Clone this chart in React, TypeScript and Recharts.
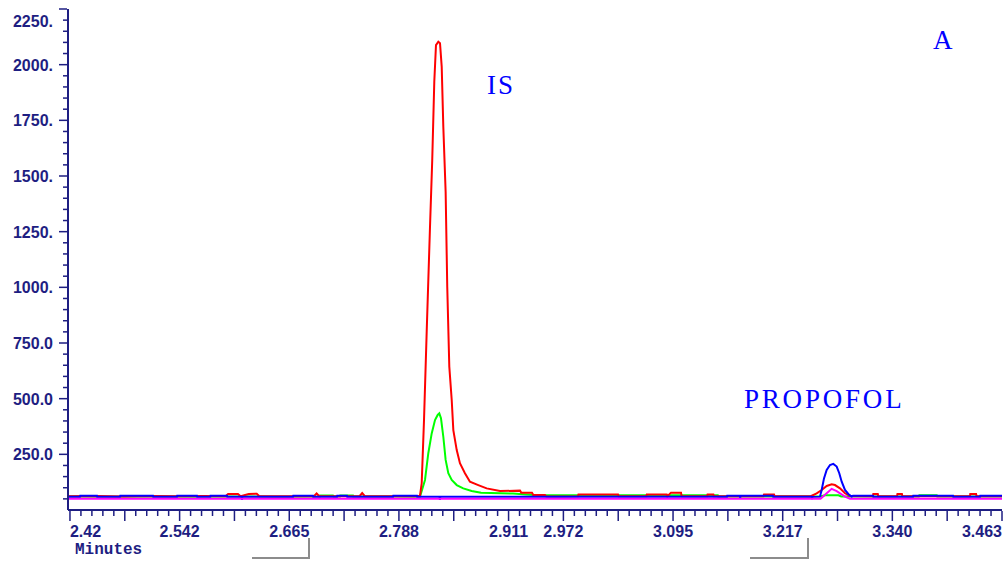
import { LineChart, Line, XAxis, YAxis } from 'recharts';

const NAVY = '#1e1e82';
const TRACE_BLUE = '#0000ff';

// [retention time (min), abundance]
const redTrace: [number, number][] = [
  [2.418, 62], [2.45, 63], [2.48, 61], [2.51, 63], [2.54, 62], [2.57, 63], [2.594, 62],
  [2.597, 72], [2.608, 72], [2.611, 62], [2.62, 72], [2.629, 73], [2.632, 62], [2.66, 62],
  [2.693, 62], [2.696, 74], [2.699, 62], [2.72, 62], [2.744, 62], [2.747, 76], [2.75, 62],
  [2.78, 62], [2.805, 62], [2.8117, 64], [2.8136, 120], [2.8162, 404], [2.8192, 801],
  [2.8229, 1272], [2.8254, 1572], [2.8277, 1923], [2.8296, 2088], [2.8322, 2103], [2.8341, 2096],
  [2.836, 1991], [2.8378, 1721], [2.8404, 1429], [2.8422, 1003], [2.8445, 644], [2.8472, 494],
  [2.849, 359], [2.8528, 269], [2.8564, 210], [2.862, 165], [2.8676, 127], [2.8769, 112],
  [2.8863, 97], [2.9012, 85], [2.9236, 87], [2.925, 78], [2.937, 78], [2.9385, 67], [2.9516, 67],
  [2.953, 61], [2.965, 61], [2.9885, 62], [2.989, 70], [3.0333, 70], [3.034, 62], [3.065, 62],
  [3.0655, 70], [3.0878, 70], [3.0885, 62], [3.0926, 78], [3.1038, 78], [3.1045, 62], [3.133, 62],
  [3.1335, 70], [3.14, 70], [3.1405, 62], [3.196, 62], [3.1967, 70], [3.2079, 70], [3.2085, 62],
  [3.249, 62], [3.2556, 75], [3.2612, 90], [3.2668, 108], [3.2724, 115], [3.2761, 112],
  [3.2817, 97], [3.2873, 75], [3.2929, 63], [3.3186, 62], [3.319, 72], [3.324, 72], [3.3245, 62],
  [3.3455, 62], [3.346, 72], [3.351, 72], [3.3515, 62], [3.4272, 62], [3.4275, 72], [3.434, 72],
  [3.4345, 62], [3.463, 62],
];

const greenTrace: [number, number][] = [
  [2.418, 61], [2.43, 61], [2.47, 60], [2.52, 61], [2.56, 60], [2.6, 61], [2.65, 60],
  [2.6998, 61], [2.7, 65], [2.7143, 65], [2.715, 61], [2.7222, 61], [2.7225, 65], [2.7367, 65],
  [2.737, 61], [2.78, 61], [2.8117, 60], [2.8173, 135], [2.821, 255], [2.8248, 344], [2.8285, 404],
  [2.8315, 427], [2.8333, 434], [2.8352, 412], [2.8378, 329], [2.8404, 225], [2.8434, 165],
  [2.8472, 135], [2.8528, 112], [2.8601, 97], [2.8695, 85], [2.88, 77], [2.9158, 74], [2.93, 70],
  [2.945, 66], [2.965, 66], [3.145, 66], [3.1455, 61], [3.2593, 61], [3.265, 66], [3.28, 66],
  [3.283, 61], [3.37, 61], [3.3705, 66], [3.39, 66], [3.3905, 61], [3.463, 61],
];

const blueTrace: [number, number][] = [
  [2.418, 59], [2.4312, 59], [2.4315, 64], [2.4502, 64], [2.4505, 59], [2.476, 59], [2.4763, 64],
  [2.5129, 64], [2.5132, 59], [2.5397, 59], [2.54, 64], [2.5621, 64], [2.5624, 59], [2.577, 59],
  [2.5773, 64], [2.5957, 64], [2.596, 59], [2.612, 59], [2.6125, 45], [2.613, 59], [2.6696, 59],
  [2.6699, 64], [2.6919, 64], [2.6922, 59], [2.7188, 59], [2.7191, 64], [2.73, 64], [2.7303, 59],
  [2.7815, 59], [2.7818, 64], [2.8083, 64], [2.8086, 59], [2.8335, 59], [2.834, 45], [2.8345, 59],
  [3.1552, 59], [3.1555, 64], [3.1698, 64], [3.17, 50], [3.1703, 64], [3.2067, 64], [3.207, 59],
  [3.25, 59], [3.2504, 49], [3.251, 59], [3.2593, 60], [3.2612, 90], [3.2638, 142], [3.2668, 180],
  [3.2705, 202], [3.2742, 207], [3.278, 195], [3.2809, 165], [3.2836, 127], [3.2873, 90],
  [3.291, 72], [3.2948, 60], [3.2962, 64], [3.3186, 64], [3.319, 59], [3.3634, 59], [3.3637, 64],
  [3.4082, 64], [3.4085, 59], [3.4384, 59], [3.4387, 64], [3.463, 64],
];

const magentaTrace: [number, number][] = [
  [2.418, 51], [3.26, 51], [3.2668, 75], [3.2724, 95], [3.278, 85], [3.2873, 60], [3.2929, 51],
  [3.463, 51],
];

const xStart = 2.42;
const xEnd = 3.463;
const xMajorCount = 17;
const xLabelIndex = [0, 2, 4, 6, 8, 9, 11, 13, 15, 17];
const xTickLabels = ['2.42', '2.542', '2.665', '2.788', '2.911', '2.972', '3.095', '3.217', '3.340', '3.463'];

const yLabelValues = [250, 500, 750, 1000, 1250, 1500, 1750, 2000, 2250];
const yTickLabels = ['250.0', '500.0', '750.0', '1000.', '1250.', '1500.', '1750.', '2000.', '2250.'];

const minorStep = (xEnd - xStart) / (xMajorCount * 5);
const xTicks = Array.from({ length: xMajorCount * 5 + 1 }, (_, i) => xStart + i * minorStep);
const yTicks = Array.from({ length: 45 }, (_, i) => (i + 1) * 50);

const toRows = (trace: [number, number][]) => trace.map(([t, v]) => ({ t, v }));

const labelFont = { fontFamily: '"Liberation Sans", Arial, sans-serif', fontSize: 16, fontWeight: 700 };

function XTick(props: any) {
  const { x, y, payload } = props;
  const idx = Math.round((payload.value - xStart) / minorStep);
  const major = idx % 5 === 0;
  const labelPos = major ? xLabelIndex.indexOf(idx / 5) : -1;
  let anchor: 'start' | 'middle' | 'end' = 'middle';
  if (labelPos === 0) anchor = 'start';
  if (labelPos === xLabelIndex.length - 1) anchor = 'end';
  return (
    <g>
      <line x1={x} x2={x} y1={y + 1} y2={y + (major ? 11 : 6)} stroke={NAVY} strokeWidth={1.5} />
      {labelPos >= 0 && (
        <text x={x} y={y + 27} textAnchor={anchor} fill={NAVY} {...labelFont}>
          {xTickLabels[labelPos]}
        </text>
      )}
    </g>
  );
}

function YTick(props: any) {
  const { x, y, payload } = props;
  const major = payload.value % 250 === 0;
  const labelPos = yLabelValues.indexOf(payload.value);
  // the top label sits a little below its tick, as in the instrument printout
  const shift = payload.value === 2250 ? 12 : 0;
  return (
    <g>
      <line x1={x - (major ? 9 : 5)} x2={x - 1} y1={y} y2={y} stroke={NAVY} strokeWidth={1.5} />
      {labelPos >= 0 && (
        <text x={x - 15} y={y + 6 + shift} textAnchor="end" fill={NAVY} {...labelFont}>
          {yTickLabels[labelPos]}
        </text>
      )}
    </g>
  );
}

const serif = { fontFamily: '"Liberation Serif", "Times New Roman", serif', fontSize: 27, letterSpacing: 2.8 };

export default function App() {
  return (
    <div style={{ position: 'absolute', left: 0, top: 0, width: 1008, height: 562, background: '#fff' }}>
      <LineChart width={1008} height={562} margin={{ top: 9, right: 6, bottom: 12, left: 8 }}>
        <XAxis
          dataKey="t"
          type="number"
          domain={[2.4178, xEnd]}
          ticks={xTicks}
          interval={0}
          height={40}
          tickSize={0}
          tickMargin={0}
          tickLine={false}
          axisLine={{ stroke: NAVY, strokeWidth: 2 }}
          tick={<XTick />}
          allowDataOverflow
        />
        <YAxis
          type="number"
          domain={[0, 2250]}
          ticks={yTicks}
          interval={0}
          width={60}
          tickSize={0}
          tickMargin={0}
          tickLine={false}
          axisLine={{ stroke: NAVY, strokeWidth: 2 }}
          tick={<YTick />}
          allowDataOverflow
        />
        <Line data={toRows(greenTrace)} dataKey="v" type="linear" stroke="#00ff00" strokeWidth={2} dot={false} activeDot={false} isAnimationActive={false} />
        <Line data={toRows(redTrace)} dataKey="v" type="linear" stroke="#ff0000" strokeWidth={2} dot={false} activeDot={false} isAnimationActive={false} />
        <Line data={toRows(blueTrace)} dataKey="v" type="linear" stroke={TRACE_BLUE} strokeWidth={2} dot={false} activeDot={false} isAnimationActive={false} />
        <Line data={toRows(magentaTrace)} dataKey="v" type="linear" stroke="#ff00ff" strokeWidth={2} dot={false} activeDot={false} isAnimationActive={false} />
      </LineChart>
      <svg width={1008} height={562} style={{ position: 'absolute', left: 0, top: 0, pointerEvents: 'none' }}>
        <text x={487} y={94} fill={TRACE_BLUE} {...serif} letterSpacing={2}>IS</text>
        <text x={744} y={408} fill={TRACE_BLUE} {...serif}>PROPOFOL</text>
        <text x={933} y={49} fill={TRACE_BLUE} {...serif}>A</text>
        <text x={75} y={554} fill={NAVY} fontFamily='"Liberation Mono", "Courier New", monospace' fontSize={16} fontWeight={700}>
          Minutes
        </text>
        <path d="M252 558 H309 V538" fill="none" stroke="#8c8c8c" strokeWidth={2} />
        <path d="M750 558 H808 V538" fill="none" stroke="#8c8c8c" strokeWidth={2} />
      </svg>
    </div>
  );
}
